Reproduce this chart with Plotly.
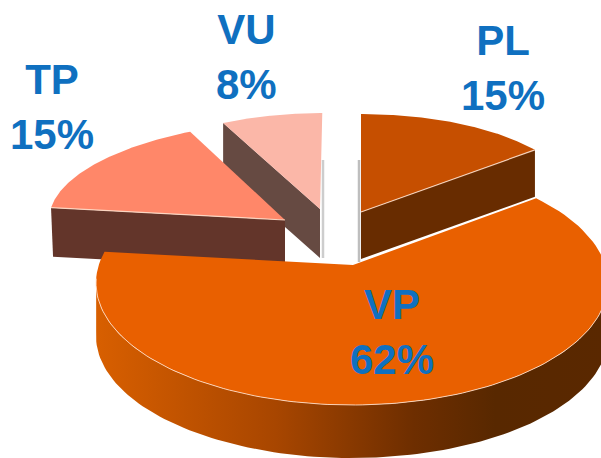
import numpy as np
import plotly.graph_objects as go

categories = ["PL", "VP", "TP", "VU"]
shares = [15, 62, 15, 8]

# Drawing order and exploded-slice geometry (perspective is faked per slice)
GEOM = {
    "PL": dict(apex=(361, 212), c=(361, 201), rx=215, ry=87, start=0, stretch=1.0, depth=47,
               top="#c64f00", side="#682c00"),
    "VP": dict(apex=(353, 265), c=(352, 283), rx=256, ry=122, start=46, stretch=1.07, depth=53,
               top="#e96000", side=None),
    "TP": dict(apex=(285, 220), c=(323, 220), rx=274, ry=101, start=277, stretch=1.0, depth=49,
               top="#ff8769", side="#63352a"),
    "VU": dict(apex=(320, 209), c=(323, 193), rx=206, ry=80, start=331, stretch=1.0, depth=49,
               top="#fbb7a8", side="#664a42"),
}
LABELS = {"PL": (503, 68), "VP": (392, 332), "TP": (52, 107), "VU": (246, 57)}
TEXT = "#0f70c0"
EDGE = "rgba(255,225,205,0.85)"


def arc(g, share, a0=None, a1=None):
    s = g["start"]
    e = s + share * 3.6 * g["stretch"]
    a0 = s if a0 is None else a0
    a1 = e if a1 is None else a1
    t = np.radians(np.linspace(a0, a1, 120))
    return g["c"][0] + g["rx"] * np.sin(t), g["c"][1] - g["ry"] * np.cos(t)


def poly(fig, xs, ys, color=None, gradient=None):
    kw = dict(fillgradient=gradient) if gradient else dict(fillcolor=color)
    fig.add_trace(go.Scatter(x=xs, y=ys, mode="lines", fill="toself",
                             line=dict(width=0), hoverinfo="skip", **kw))


def stroke(fig, xs, ys, color=EDGE, width=1.2):
    fig.add_trace(go.Scatter(x=xs, y=ys, mode="lines",
                             line=dict(color=color, width=width), hoverinfo="skip"))


fig = go.Figure()
share = dict(zip(categories, shares))

# Soft shadows beside the slices
stroke(fig, [323, 323], [160, 258], "rgba(130,130,130,0.4)", 2.5)
stroke(fig, [359, 359], [160, 262], "rgba(110,110,110,0.45)", 2.5)

# VU
g = GEOM["VU"]
ax, ay = arc(g, share["VU"])
d = g["depth"]
poly(fig, [ax[0], g["apex"][0], g["apex"][0], ax[0]],
     [ay[0], g["apex"][1], g["apex"][1] + d, ay[0] + d], g["side"])
poly(fig, [g["apex"][0], *ax], [g["apex"][1], *ay], g["top"])

# TP
g = GEOM["TP"]
ax, ay = arc(g, share["TP"])
d = g["depth"]
poly(fig, [ax[0], g["apex"][0], g["apex"][0], ax[0] + 2],
     [ay[0], g["apex"][1], g["apex"][1] + d, ay[0] + d], g["side"])
poly(fig, [g["apex"][0], *ax], [g["apex"][1], *ay], g["top"])
stroke(fig, [ax[0], g["apex"][0]], [ay[0], g["apex"][1]])

# PL
g = GEOM["PL"]
ax, ay = arc(g, share["PL"])
d = g["depth"]
poly(fig, [ax[-1], g["apex"][0], g["apex"][0], ax[-1]],
     [ay[-1], g["apex"][1], g["apex"][1] + d, ay[-1] + d], g["side"])
poly(fig, [g["apex"][0], *ax], [g["apex"][1], *ay], g["top"])
stroke(fig, [ax[-1], g["apex"][0]], [ay[-1], g["apex"][1]])

# VP
g = GEOM["VP"]
d = g["depth"]
sx, sy = arc(g, share["VP"], 88, 272)
poly(fig, [*sx, *sx[::-1]], [*sy, *(sy[::-1] + d)],
     gradient=dict(type="horizontal", colorscale=[
         [0.0, "#d85f00"], [0.35, "#a84600"], [0.62, "#6e2e00"], [0.78, "#582800"], [1.0, "#5a2800"]]))
ax, ay = arc(g, share["VP"])
poly(fig, [g["apex"][0], *ax], [g["apex"][1], *ay], g["top"])
stroke(fig, sx, sy, width=1)

annotations = [
    dict(x=LABELS[c][0], y=LABELS[c][1], xref="x", yref="y", showarrow=False,
         text=f"{c}<br>{v}%", font=dict(family="Liberation Sans", size=42, color=TEXT, weight=600),
         align="center")
    for c, v in zip(categories, shares)
]

fig.update_layout(
    width=601, height=458, margin=dict(l=0, r=0, t=0, b=0),
    paper_bgcolor="white", plot_bgcolor="white", showlegend=False,
    xaxis=dict(range=[0, 601], visible=False, fixedrange=True),
    yaxis=dict(range=[458, 0], visible=False, fixedrange=True),
    annotations=annotations,
)
fig.write_html("out.html", config=dict(displayModeBar=False),
               post_script="document.body.style.margin='0';")
